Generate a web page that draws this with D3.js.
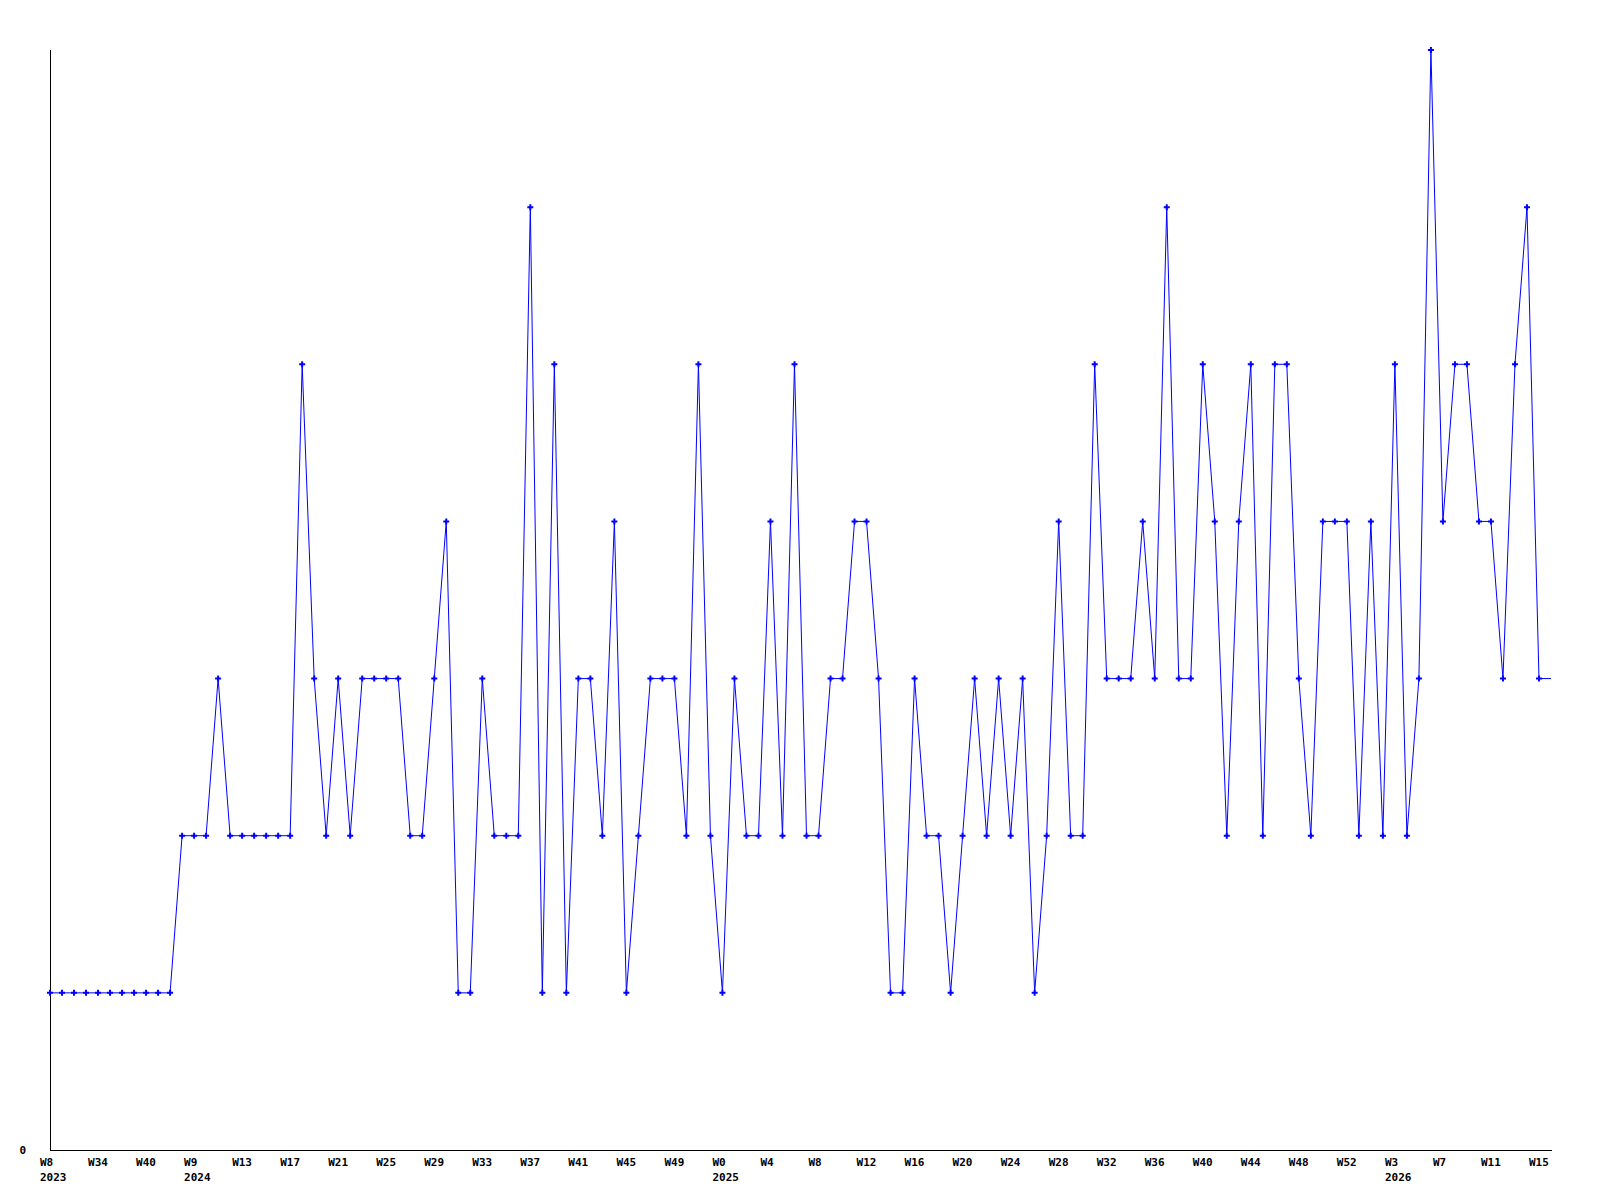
<!DOCTYPE html>
<html>
<head>
<meta charset="utf-8">
<script src="https://cdn.jsdelivr.net/npm/d3@7"></script>
<style>
  body { margin: 0; background: #fff; }
  text { font-family: "DejaVu Sans Mono", monospace; font-weight: bold; font-size: 11px; fill: #000; }
</style>
</head>
<body>
<div id="chart"></div>
<script>
// weekly counts, one entry per week shown on the x axis

// week labels per year (2023 has gaps in the data)
var weeks2023 = ["W8", "W31", "W32", "W33", "W34", "W35", "W37", "W38", "W40", "W42", "W45", "W49"];
var weeks2024 = ["W9", "W10", "W11", "W12", "W13", "W14", "W15", "W16", "W17", "W18", "W19", "W20",
  "W21", "W22", "W23", "W24", "W25", "W26", "W27", "W28", "W29", "W30", "W31", "W32",
  "W33", "W34", "W35", "W36", "W37", "W38", "W39", "W40", "W41", "W42", "W43", "W44",
  "W45", "W46", "W47", "W48", "W49", "W50", "W51", "W52"];
var weeks2025 = ["W0", "W1", "W2", "W3", "W4", "W5", "W6", "W7", "W8", "W9", "W10", "W11",
  "W12", "W13", "W14", "W15", "W16", "W17", "W18", "W19", "W20", "W21", "W22", "W23",
  "W24", "W25", "W26", "W27", "W28", "W29", "W30", "W31", "W32", "W33", "W34", "W35",
  "W36", "W37", "W38", "W39", "W40", "W41", "W42", "W43", "W44", "W45", "W46", "W47",
  "W48", "W49", "W50", "W51", "W52"];
var weeks2026 = ["W0", "W1", "W2", "W3", "W4", "W5", "W6", "W7", "W8", "W9", "W10", "W11",
  "W12", "W13", "W14", "W15", "W16"];

var values2023 = [1, 1, 1, 1, 1, 1, 1, 1, 1, 1, 1, 2];
var values2024 = [2, 2, 3, 2, 2, 2, 2, 2, 2, 5, 3, 2, 3, 2, 3, 3, 3, 3, 2, 2, 3, 4,
  1, 1, 3, 2, 2, 2, 6, 1, 5, 1, 3, 3, 2, 4, 1, 2, 3, 3, 3, 2, 5, 2];
var values2025 = [1, 3, 2, 2, 4, 2, 5, 2, 2, 3, 3, 4, 4, 3, 1, 1, 3, 2, 2, 1, 2, 3,
  2, 3, 2, 3, 1, 2, 4, 2, 2, 5, 3, 3, 3, 4, 3, 6, 3, 3, 5, 4, 2, 4, 5, 2, 5, 5,
  3, 2, 4, 4, 4];
var values2026 = [2, 4, 2, 5, 2, 3, 7, 4, 5, 5, 4, 4, 3, 5, 6, 3, 3];

var yTicks = [0];

// *********************************************
// SETUP
// *********************************************
var width = 1600, height = 1200;
var margin = {left: 50, top: 50, right: 49, bottom: 50};

var data = [];
[[2023, weeks2023, values2023], [2024, weeks2024, values2024],
 [2025, weeks2025, values2025], [2026, weeks2026, values2026]].forEach(function(g) {
  g[1].forEach(function(w, i) {
    data.push({year: g[0], week: w, value: g[2][i]});
  });
});
data.forEach(function(d, i) { d.idx = i; });

var svg = d3.select("#chart").append("svg")
    .attr("width", width)
    .attr("height", height);

var x = d3.scaleLinear()
    .domain([0, data.length - 1])
    .range([margin.left, width - margin.right]);

var y = d3.scaleLinear()
    .domain([0, 7])
    .range([height - margin.bottom, margin.top]);

// axes lines
svg.append("line")
    .attr("x1", x(0) + 0.5).attr("x2", x(0) + 0.5)
    .attr("y1", y(7)).attr("y2", y(0) + 0.5)
    .attr("stroke", "#000");
svg.append("line")
    .attr("x1", x(0)).attr("x2", x(data.length - 1) + 1)
    .attr("y1", y(0) + 0.5).attr("y2", y(0) + 0.5)
    .attr("stroke", "#000");

// y label
svg.selectAll("text.ylab")
  .data(yTicks).enter().append("text")
    .attr("class", "ylab")
    .attr("x", 26)
    .attr("y", function(d) { return y(d) + 4; })
    .attr("text-anchor", "end")
    .text(function(d) { return d; });

// x labels every 4th week, year under first label of each year
var ticks = data.filter(function(d) { return d.idx % 4 === 0; });
var g = svg.append("g").attr("class", "xlabels");
ticks.forEach(function(d, i) {
  g.append("text")
    .attr("x", x(d.idx) - 10)
    .attr("y", 1166)
    .text(d.week);
  if (i === 0 || ticks[i - 1].year !== d.year) {
    g.append("text")
      .attr("x", x(d.idx) - 10)
      .attr("y", 1181)
      .text(d.year);
  }
});

// line
var line = d3.line()
    .x(function(d) { return x(d.idx); })
    .y(function(d) { return y(d.value); });

svg.append("path")
    .datum(data)
    .attr("d", line)
    .attr("fill", "none")
    .attr("stroke", "#0000ff")
    .attr("stroke-width", 1);

// markers (last, current week has none)
var sym = d3.symbol().type(d3.symbolCross).size(20);
svg.append("g").selectAll("path")
  .data(data.slice(0, data.length - 1))
  .enter().append("path")
    .attr("d", sym)
    .attr("transform", function(d) { return "translate(" + x(d.idx) + "," + y(d.value) + ")"; })
    .attr("fill", "#0000ff");
</script>
</body>
</html>
